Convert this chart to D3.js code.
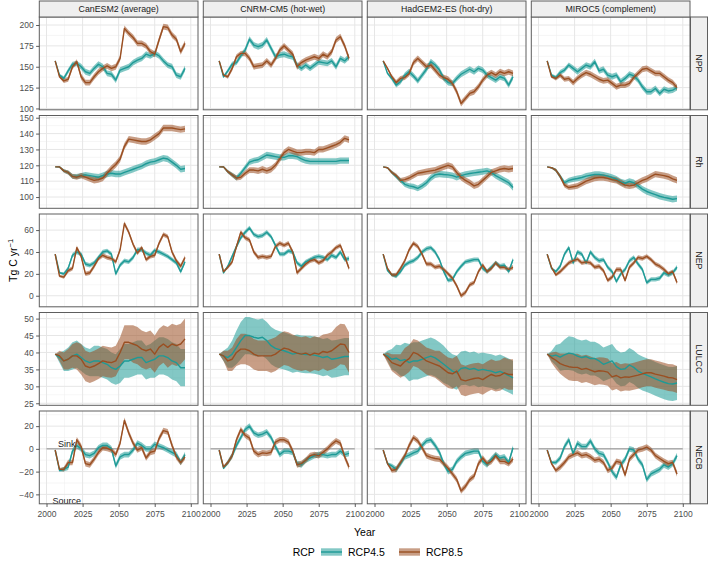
<!DOCTYPE html>
<html><head><meta charset="utf-8">
<script src="https://cdn.jsdelivr.net/npm/d3@7"></script>
<style>body{margin:0;background:#fff}svg{display:block;font-family:"Liberation Sans",Arial,Helvetica,sans-serif}</style>
</head><body><svg id="c" width="709" height="564"></svg>
<script>
// ---------------- DATA ----------------
const years = [2006,2009,2012,2015,2018,2021,2024,2027,2030,2033,2036,2039,2042,2045,2048,2051,2054,2057,2060,2063,2066,2069,2072,2075,2078,2081,2084,2087,2090,2093,2096];
const models = ["CanESM2 (average)","CNRM-CM5 (hot-wet)","HadGEM2-ES (hot-dry)","MIROC5 (complement)"];
const variables = ["NPP","Rh","NEP","LULCC","NECB"];
const scenarios = ["RCP4.5","RCP8.5"];
const xTickLabels = [2000,2025,2050,2075,2100];
const yTickLabels = {NPP:[100,125,150,175,200], Rh:[100,110,120,130,140,150], NEP:[0,20,40,60], LULCC:[25,30,35,40,45,50], NECB:[-40,-20,0,20]};

// NPP (order: CanESM2, CNRM-CM5, HadGEM2-ES, MIROC5)
const npp45 = [
 [157,140,136,145,153,154,150,144,142,148,153,150,142,141,134,146,148,150,155,158,160,165,163,166,163,157,152,150,140,138,148],
 [157,138,145,153,155,163,170,183,176,174,176,182,172,162,164,165,163,162,152,148,152,148,152,156,155,154,157,150,160,157,162],
 [157,142,136,128,132,140,144,139,133,140,147,156,152,146,136,131,130,136,141,144,147,144,148,146,140,137,134,138,136,128,138],
 [157,140,137,143,146,152,148,144,148,152,150,156,145,147,140,138,140,132,136,141,139,134,126,120,120,124,118,123,121,122,125]];
const npp85 = [
 [157,138,133,135,150,156,138,131,131,138,144,148,151,148,150,160,196,190,185,178,178,175,168,165,182,198,197,188,183,168,178],
 [157,140,138,148,162,166,166,160,150,151,152,157,152,160,170,175,170,165,150,155,158,160,162,160,165,162,168,182,186,175,160],
 [157,148,138,131,136,137,142,155,160,155,150,152,146,140,137,135,130,120,106,112,118,120,126,134,140,143,140,144,142,144,142],
 [157,138,136,140,135,136,131,136,140,143,141,138,135,133,134,130,126,128,128,130,137,142,147,148,145,142,142,138,134,131,125]];
// Rh
const rh45 = [
 [119,119,116.5,115.5,113,113,113.5,114,113.5,113,112.5,113.5,114.5,115,114.5,114.5,115.5,116.5,117.5,118.5,119.5,121,122,122.5,123.5,124.5,124,122,120,117.5,118],
 [119,119,116,114,112,115,118.5,122,123,123.5,125,126.5,126,125.5,125,125,126,126,125.5,124,123,122.5,122.5,122.5,122.5,122.5,122.5,122.5,123,123,123],
 [119,118.5,115.5,113,110.5,108,107,106.5,105.5,107,109,112,114,114.5,114.2,114,113.5,112.5,113.5,114.3,114.8,115.2,115.6,116,116.5,115.5,113.5,112,110.5,109,106],
 [119,118.5,117,113,109,110.5,111.2,111.7,112.3,113.2,113.7,114.2,114.2,113.8,113.2,112.3,111.2,109.5,108.7,109.8,109,107,105,103.5,102.5,101.5,100.5,99.8,99.2,98.6,99]];
const rh85 = [
 [119,119,116.5,115.5,113,112.5,113.5,112.5,111.5,110.5,111,112,115,118,120.5,124,132,136.5,136,135.5,135,135,136,138,140,143.5,143.5,143.5,143,142.5,143],
 [119,119,116,114,112,112.5,115,117,117,116.5,117.5,116.5,117.5,120,124,128,130,129,128,128,128.5,128.5,128,130,130,131,132,133,134.5,137,136],
 [119,118.5,115.5,113.5,110.5,111,112,113.5,115,115.5,116,116.5,117,118,119,120,119,115.5,112.5,110.5,109,107,108,110.5,113,115.5,116.5,117.5,118,117.5,118],
 [119,118.5,117,113,107.5,106,106.5,107,108.5,110,111,112,112.3,112.3,111.8,111,110.5,109,107.5,107,107.5,109,110.5,111.5,113,114.4,114,113.5,112.8,111.5,110.5]];
// NEP
const nep45 = [
 [38,21,20,25,37,40,38,29,27.7,30,35,40,41,38,20,28,32,31,35,42,42,39,37,41.5,40,38,36,33,30,22,31],
 [38,21,27,36,45,53,58,62,56,54,55,58,54,46,38,38,41,40,30,27,31,33,35,36,35,33,37,35,40,33,34],
 [38,23,19,18,22,28,30.5,32,35,40,43,44,40,33,22,14,15,22,27,31,32,33,33,25,22,26,30,27,28,22,33],
 [38,25,22,27,38,44,30,40,38,30,40,35,32,33,26,22,13,20,24,32,35,29,24,12,15,15,16,21,19,21,26]];
const nep85 = [
 [38,18,17,23,25,44,36,20,21,27,34,37,35,34,31,42,66,58,47,39,44,33,36,37,48,56,54,40,32,27,35],
 [38,22,26,31,45,58,53,51,40,35,36,35,36,45,48,46,48,40,21,25,29,32,33,30,32,37,40,44,46,36,25],
 [38,25,19,19,25,32,42,48,45,38,29,29,26,27,24,20,16,9,0,3,10,12,22,28,22,25,30,26,26,24,26],
 [38,26,19,22,26,30,32,33.5,30,31,30,26,27,23,14,17,24,24,14,26,30,35,34,36,33,29,27,24,20,22,12]];
// LULCC
const lu45 = [
 [39.5,38.5,37.5,38,39,39.5,38.5,37.5,37,37.5,37.5,37,36.5,35.5,35,36,37.5,37.5,38,38.5,38.5,37,37.5,38,39,39,38.5,37.5,37,35.5,35.5],
 [39.5,39,38.5,39.5,41.5,43.5,45,45,44.5,44.2,44.5,43.5,42,41.2,40.8,40.5,40,39.5,39.8,39.5,39.4,39.4,39.2,38.9,38.5,38.8,38,38.2,38.5,38.8,38.8],
 [39.5,39,38,38.3,37.6,37.9,37,37.5,37.5,38,38.5,38.9,38.4,37.5,36.5,35.5,34.5,34,35.3,35.5,35,35.3,34.7,35,34.7,34.5,34,34.4,33.8,33.2,32.5],
 [39.5,38.9,39.2,38.6,39.3,39.8,39.6,38.9,38.5,38.8,38.2,38.2,37.5,36.5,37,37.5,35.8,35,35.2,36.3,35.6,34.5,33.8,33.3,32.8,32.2,31.7,31.2,30.8,30.7,31]];
const lu85 = [
 [39.5,39,37.5,38,39,39,38,36,35.5,36,36.7,37.5,37.2,37,37.5,40,43,43,42.5,42,41,40.5,41,39.5,41.5,42.5,41.5,42.5,42,42.5,44],
 [39.5,39,37.5,38,40,41,41,40.5,39.5,39,39,39,39,39.5,40.5,41.3,41,40.3,39.8,39.5,39.8,39.2,39.8,39.5,40.3,40,40.5,41.5,42.5,42.3,40],
 [39.5,38.5,37,36.5,36,37.3,38.2,40,39.5,38.5,37.5,37,36.5,36,35,34,33.7,34.5,32,31.6,32,32.3,32.5,32,32.8,33.5,33,33.2,34,33.5,33.5],
 [39.5,38.5,37.7,36.7,36.2,35.8,35.6,35.6,35,35.3,34.8,34.3,34.6,34.5,34.2,32.8,33.2,32.5,32.8,32.7,33,33.3,33.7,34,34,33.6,33.3,33,32.6,32.5,32]];
// NECB
const necb45 = [
 [-1,-19,-18,-16,-2,3,0,-5,-6,-4,1,3,3,0,-15,-7,-5,-5,-1,5,3,0,0,4,2.5,1,-1,-3,-5,-12,-5],
 [-1,-17,-12,-6,3,10,17,20,14,12,13,15,10,2,-5,-2,-2,-3,-13,-14,-10,-8,-6,-5,-5,-6,-5,-5,-2,-5,-4],
 [-1,-13,-15,-18,-13,-7,-5.5,-3.5,-2,3,7,8,3,-3,-13,-20,-18,-11,-7,-4,-3,-2,-2,-11,-14,-9,-5,-8,-7,-12,1],
 [-1,-12,-12,-8,2,8,-4,5,2,2,7,0,-4,-5,-12,-20,-25,-14,-9,0,-1,-9,-14,-27,-22,-20,-18,-14,-16,-13,-6]];
const necb85 = [
 [-1,-18,-18,-12,-12,8,2,-13,-14,-9,-3,1,0.5,-1,-5,5,25,14,5,-1,1,-8,-3,-2,9,16,15,3,-7,-12,-7],
 [-1,-16,-12,-6,8,17,12,9.5,-2,-5,-3.5,-4,-3,6,8,8,6,-2,-14,-13,-10,-6,-5,-6,-3,0,4,7,5,-7,-16],
 [-1,-13,-19,-18,-12,-6,3,10,7,1,-6,-7.5,-8.5,-9,-13,-17,-22,-27,-37,-33,-27,-24,-13,-8,-13,-11,-6,-11,-11,-13,-9],
 [-1,-13,-19,-16,-12,-7,-5,-3.5,-6,-5,-7,-10,-9,-12,-19,-17,-11,-12,-23,-9,-5,-1,0,1.5,-1,-6,-8.5,-11,-13,-12,-22]];

// Uncertainty half-widths (ribbons)
const hwNPP  = [0,1.5,2.5,3,3,3,3.5,3.5,3.5,3.5,3.5,3.5,3.5,3.5,3.5,3.5,3.5,3.5,3.5,3.5,3.5,3.5,3.5,3.5,3.5,3.5,3.5,3.5,3.5,3.5,3.5];
const hwRh   = [0,0.5,1,1.3,1.5,1.6,1.7,1.8,1.8,1.9,2,2,2,2,2,2,2,2,2,2,2,2,2,2,2,2,2,2,2,2,2];
const hwNEP  = [0,1,1.5,2,2,2,2,2,2,2,2,2,2,2,2,2,2,2,2,2,2,2,2,2,2,2,2,2,2,2,2];
const hwNECB = [0,1.2,2,2.5,2.5,2.5,2.5,2.5,2.5,2.5,2.5,2.5,2.5,2.5,2.5,2.5,2.5,2.5,2.5,2.5,2.5,2.5,2.5,2.5,2.5,2.5,2.5,2.5,2.5,2.5,2.5];
const hwLU45 = [
 [0,1.5,3,3.5,4,4,4,4,4,4.5,4.5,4.5,4.5,4.5,4.5,5,5,5,5,5,5,5,5,5.5,5.5,5.5,5.5,5.5,5.5,5.5,5.5],
 [0,1.5,3,4,5,5.5,5.5,5.5,5.5,5.5,5.5,5.5,5.5,5.5,5.5,5.5,5.5,5.5,5.5,5.5,5.5,5.5,5.5,5.5,5.5,5.5,5.5,5.5,5.5,5.5,5.5],
 [0,1.5,3,4,4.5,5,5.5,5.5,5.5,5.5,5.5,5.5,5.5,5.5,5.5,5,5,5,5,5,5,5,5,5,5,5,5,5,5,5,5],
 [0,1.5,3,4,4.5,5,5,5,5,5,5,5,5,5,5,5,5,5,5,5,5,5,5,5,5,5,5,5,5,5,5]];
const hwLU85 = [
 [0,1.5,2.5,3,3.5,4,4.5,4.5,4.5,4.5,4.5,4.5,4.5,4.5,4.5,4.5,5,5,5.5,5.5,5.5,5.5,5.5,5.5,5.5,5.5,6,6,6,6,6],
 [0,1.5,3,3.5,4,4.5,4.5,4.5,4.5,4.5,4.5,4.5,5,5,5,5,5,5,5,5,5,5,5,5,5,5.5,5.5,6,6,6,6],
 [0,1.5,2.5,3,3.5,4,4,4,4,4,4,4,4,4.5,4.5,4.5,4.5,4.5,4.5,4.5,4.5,4.5,4.5,4.5,4.5,4.5,4.5,4.5,4.5,4.5,4.5],
 [0,1.5,2.5,3,3.5,4,4,4,4,4,4,4,4,4,4,4,4,4,4,4,4,4,4,4,4,4,4,4,4,4,4]];

// ---------------- LAYOUT / STYLE ----------------
const series = {
  NPP:   {"RCP4.5":npp45, "RCP8.5":npp85},
  Rh:    {"RCP4.5":rh45,  "RCP8.5":rh85},
  NEP:   {"RCP4.5":nep45, "RCP8.5":nep85},
  LULCC: {"RCP4.5":lu45,  "RCP8.5":lu85},
  NECB:  {"RCP4.5":necb45,"RCP8.5":necb85}
};
const halfWidth = (v, s, m) => {
  if (v === "NPP") return hwNPP;
  if (v === "Rh") return hwRh;
  if (v === "NEP") return hwNEP;
  if (v === "NECB") return hwNECB;
  return s === "RCP4.5" ? hwLU45[m] : hwLU85[m];
};
const yDomains = {NPP:[98.4,209.6], Rh:[92.9,151.4], NEP:[-10.1,74.7], LULCC:[24.4,51.8], NECB:[-48.3,33.3]};
const xDomain = [1995, 2105];
const colors = {"RCP4.5":"#1E9A96", "RCP8.5":"#9A4F22"};
const ribbonOpacity = 0.55;

const panelLeft = 39.3, panelW = 158.7, colGap = 5.3;
const panelTop = 17, panelH = 92.8, rowGap = 5.7;
const stripH = 16, stripW = 17;

const svg = d3.select("#c");
svg.append("rect").attr("width",709).attr("height",564).attr("fill","#fff");

function minorBreaks(ticks, dom){
  const step = ticks[1]-ticks[0];
  const out = [];
  for (let i=-1;i<ticks.length;i++){
    const m = (i<0 ? ticks[0]-step/2 : ticks[i]+step/2);
    if (m>dom[0] && m<dom[1]) out.push(m);
  }
  return out;
}

variables.forEach((v, r) => {
  const y0 = panelTop + r*(panelH+rowGap);
  const ys = d3.scaleLinear().domain(yDomains[v]).range([y0+panelH, y0]);
  models.forEach((mName, c) => {
    const x0 = panelLeft + c*(panelW+colGap);
    const xs = d3.scaleLinear().domain(xDomain).range([x0, x0+panelW]);
    const g = svg.append("g");
    g.append("rect").attr("x",x0).attr("y",y0).attr("width",panelW).attr("height",panelH).attr("fill","#fff");
    // minor grid
    const xMinor = minorBreaks(xTickLabels, xDomain);
    const yMinor = minorBreaks(yTickLabels[v], yDomains[v]);
    g.selectAll(null).data(xMinor).join("line")
      .attr("x1",d=>xs(d)).attr("x2",d=>xs(d)).attr("y1",y0).attr("y2",y0+panelH)
      .attr("stroke","#F0F0F0").attr("stroke-width",0.6);
    g.selectAll(null).data(yMinor).join("line")
      .attr("y1",d=>ys(d)).attr("y2",d=>ys(d)).attr("x1",x0).attr("x2",x0+panelW)
      .attr("stroke","#F0F0F0").attr("stroke-width",0.6);
    // major grid
    g.selectAll(null).data(xTickLabels).join("line")
      .attr("x1",d=>xs(d)).attr("x2",d=>xs(d)).attr("y1",y0).attr("y2",y0+panelH)
      .attr("stroke","#E6E6E6").attr("stroke-width",1);
    g.selectAll(null).data(yTickLabels[v]).join("line")
      .attr("y1",d=>ys(d)).attr("y2",d=>ys(d)).attr("x1",x0).attr("x2",x0+panelW)
      .attr("stroke","#E6E6E6").attr("stroke-width",1);

    // ribbons
    scenarios.forEach(s => {
      const vals = series[v][s][c];
      const hw = halfWidth(v, s, c);
      const pts = years.map((yr,i)=>({yr, lo: vals[i]-hw[i], hi: vals[i]+hw[i]}));
      g.append("path").datum(pts)
        .attr("d", d3.area().x(d=>xs(d.yr)).y0(d=>ys(d.lo)).y1(d=>ys(d.hi)))
        .attr("fill", colors[s]).attr("fill-opacity", ribbonOpacity).attr("stroke","none");
    });
    // zero line for NECB
    if (v === "NECB") {
      g.append("line").attr("x1",xs(2000)).attr("x2",xs(2100)).attr("y1",ys(0)).attr("y2",ys(0))
        .attr("stroke","#6E6E6E").attr("stroke-width",0.8);
    }
    // lines
    scenarios.forEach(s => {
      const vals = series[v][s][c];
      const pts = years.map((yr,i)=>({yr, val: vals[i]}));
      g.append("path").datum(pts)
        .attr("d", d3.line().x(d=>xs(d.yr)).y(d=>ys(d.val)))
        .attr("fill","none").attr("stroke", colors[s]).attr("stroke-width",1.4)
        .attr("stroke-linejoin","round");
    });
    // annotations
    if (v === "NECB" && c === 0) {
      [["Sink",4.5],["Source",-45.5]].forEach(([t,val]) => {
        g.append("text").attr("x",xs(2014)).attr("y",ys(val)).attr("text-anchor","middle")
          .attr("dominant-baseline","central").attr("font-size",9).attr("fill","#1a1a1a").text(t);
      });
    }
    // border
    g.append("rect").attr("x",x0).attr("y",y0).attr("width",panelW).attr("height",panelH)
      .attr("fill","none").attr("stroke","#5E5E5E").attr("stroke-width",1);

    // top strips
    if (r === 0) {
      svg.append("rect").attr("x",x0).attr("y",panelTop-stripH).attr("width",panelW).attr("height",stripH)
        .attr("fill","#EFEFEF").attr("stroke","#5E5E5E").attr("stroke-width",1);
      svg.append("text").attr("x",x0+panelW/2).attr("y",panelTop-stripH/2).attr("text-anchor","middle")
        .attr("dominant-baseline","central").attr("font-size",8.8).attr("fill","#1A1A1A").text(mName);
    }
    // y axis
    if (c === 0) {
      const ax = svg.append("g").attr("transform",`translate(${x0},0)`)
        .call(d3.axisLeft(ys).tickValues(yTickLabels[v]).tickSize(3.2).tickPadding(2.4).tickFormat(d=>d<0?"\u2212"+Math.abs(d):d));
      ax.select(".domain").remove();
      ax.selectAll(".tick line").attr("stroke","#333").attr("stroke-width",0.8);
      ax.selectAll(".tick text").attr("font-size",8.5).attr("fill","#4D4D4D").attr("font-family",null);
    }
    // x axis
    if (r === variables.length-1) {
      const ax = svg.append("g").attr("transform",`translate(0,${y0+panelH})`)
        .call(d3.axisBottom(xs).tickValues(xTickLabels).tickSize(3.2).tickPadding(4.4).tickFormat(d3.format("d")));
      ax.select(".domain").remove();
      ax.selectAll(".tick line").attr("stroke","#333").attr("stroke-width",0.8);
      ax.selectAll(".tick text").attr("font-size",8.5).attr("fill","#4D4D4D").attr("font-family",null);
    }
  });
  // right strip
  const sx = panelLeft + 4*panelW + 3*colGap;
  svg.append("rect").attr("x",sx+0.5).attr("y",y0).attr("width",stripW).attr("height",panelH)
    .attr("fill","#EFEFEF").attr("stroke","#5E5E5E").attr("stroke-width",1);
  svg.append("text").attr("transform",`translate(${sx+0.5+stripW/2},${y0+panelH/2}) rotate(90)`)
    .attr("text-anchor","middle").attr("dominant-baseline","central").attr("font-size",8.8)
    .attr("fill","#1A1A1A").text(v);
});

// axis titles
svg.append("text").attr("x", panelLeft + (4*panelW+3*colGap)/2).attr("y",535.5).attr("text-anchor","middle")
  .attr("font-size",10.5).attr("fill","#000").text("Year");
const yt = svg.append("text").attr("transform",`translate(16.5,${panelTop + (5*panelH+4*rowGap)/2}) rotate(-90)`)
  .attr("text-anchor","middle").attr("font-size",10.5).attr("fill","#000");
yt.append("tspan").text("Tg C yr");
yt.append("tspan").attr("dy",-4).attr("font-size",7.5).text("\u22121");

// legend
const lg = svg.append("g");
lg.append("text").attr("x",292.7).attr("y",555.8).attr("font-size",10.5).attr("fill","#000").text("RCP");
const keyX = [321, 399], labX = [348, 426];
scenarios.forEach((s,i) => {
  lg.append("rect").attr("x",keyX[i]).attr("y",548.3).attr("width",21).attr("height",7.4)
    .attr("fill",colors[s]).attr("fill-opacity",ribbonOpacity);
  lg.append("line").attr("x1",keyX[i]).attr("x2",keyX[i]+21).attr("y1",552).attr("y2",552)
    .attr("stroke",colors[s]).attr("stroke-width",1.4);
  lg.append("text").attr("x",labX[i]).attr("y",555.8).attr("font-size",10.5).attr("fill","#000").text(s);
});
</script>
</body></html>
